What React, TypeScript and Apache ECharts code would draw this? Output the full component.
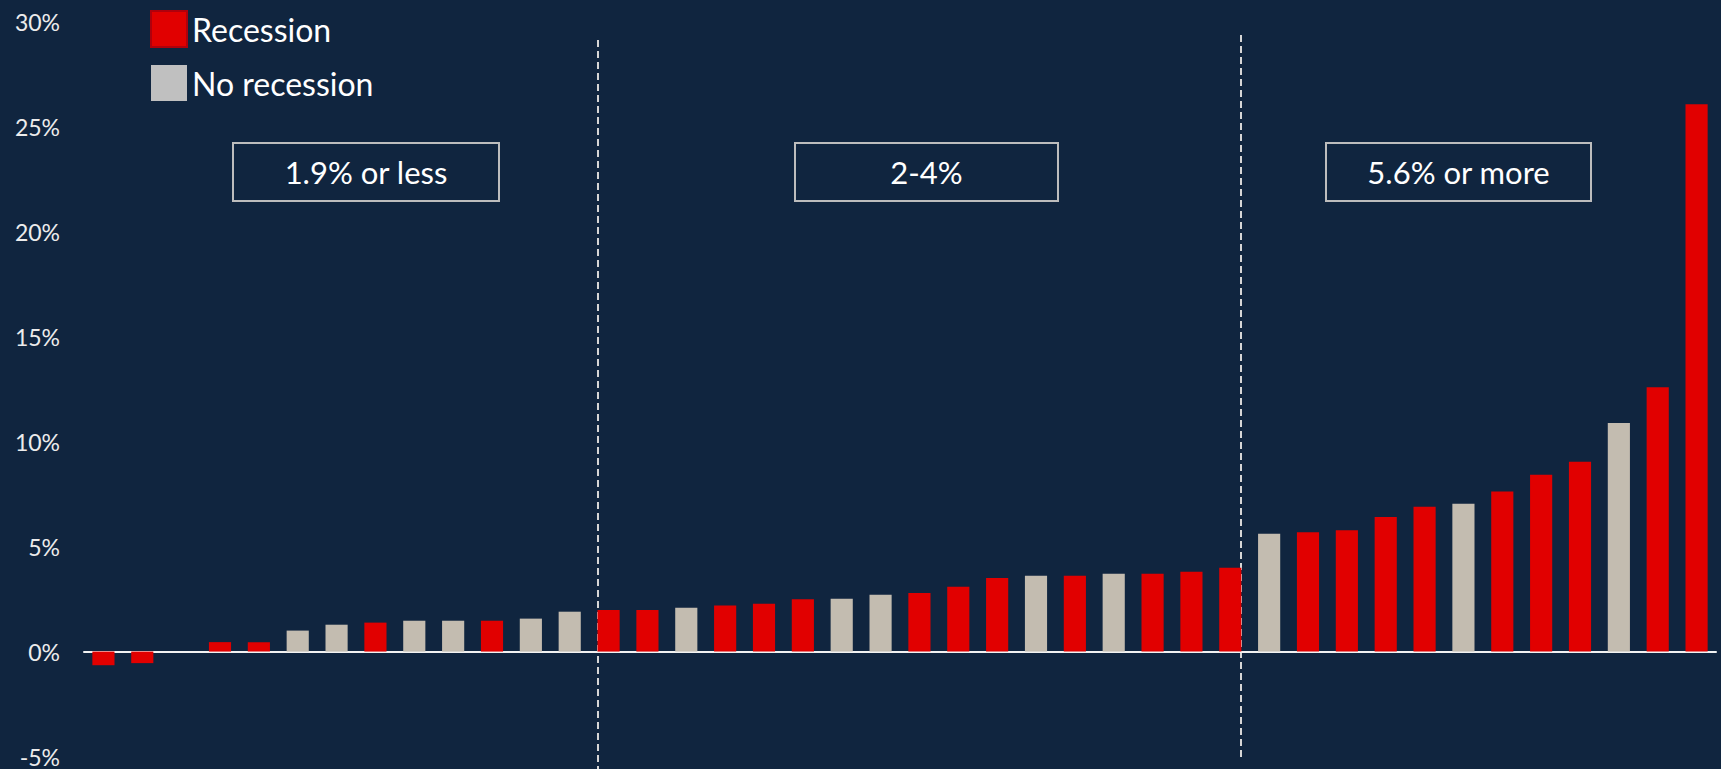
import React, { useEffect, useRef } from "react";
import * as echarts from "echarts";

// Value of each episode (%), sorted ascending
const values: number[] = [
  -0.65, -0.55, 0, 0.45, 0.45, 1.0, 1.28, 1.38, 1.47, 1.47, 1.47, 1.57, 1.9,
  1.98, 1.98, 2.09, 2.19, 2.28, 2.49, 2.52, 2.71, 2.79, 3.09, 3.5, 3.61, 3.61, 3.71, 3.71, 3.8, 3.99,
  5.62, 5.69, 5.78, 6.41, 6.9, 7.04, 7.63, 8.42, 9.05, 10.89, 12.6, 26.08,
];
// 1 = recession, 0 = no recession
const recession: number[] = [
  1, 1, 1, 1, 1, 0, 0, 1, 0, 0, 1, 0, 0,
  1, 1, 0, 1, 1, 1, 0, 0, 1, 1, 1, 0, 1, 0, 1, 1, 1,
  0, 1, 1, 1, 1, 0, 1, 1, 1, 0, 1, 1,
];
const categories: string[] = values.map((_, i) => String(i + 1));
const groupLabels: string[] = ["1.9% or less", "2-4%", "5.6% or more"];
const seriesNames: string[] = ["Recession", "No recession"];
const yTicks = { min: -5, max: 30, interval: 5 };

const BG = "#10253f";
const RED = "#e10000";
const GRAY = "#c3bcb0";

export default function App() {
  const ref = useRef<HTMLDivElement>(null);
  useEffect(() => {
    document.body.style.margin = "0";
    document.body.style.background = BG;
    const chart = echarts.init(ref.current!, undefined, { renderer: "svg" });
    const recData = values.map((v, i) => (recession[i] ? v : null));
    const noRecData = values.map((v, i) => (recession[i] ? null : v));

    const boxes = [
      { x: 233, w: 266 },
      { x: 795, w: 263 },
      { x: 1326, w: 265 },
    ];
    const graphic: any[] = [];
    boxes.forEach((b, i) => {
      graphic.push({
        type: "rect",
        shape: { x: b.x, y: 143, width: b.w, height: 58 },
        style: { fill: "none", stroke: "#bdbdbd", lineWidth: 2 },
        silent: true,
      });
      graphic.push({
        type: "text",
        x: b.x + b.w / 2,
        y: 172,
        style: {
          text: groupLabels[i],
          fill: "#ffffff",
          fontSize: 31,
          fontFamily: "Lato",
          align: "center",
          verticalAlign: "middle",
        },
        silent: true,
      });
    });
    graphic.push({
      type: "line",
      shape: { x1: 598, y1: 40, x2: 598, y2: 769 },
      style: { stroke: "#d6d6d6", lineWidth: 2, lineDash: [7, 4] },
      silent: true,
    });
    graphic.push({
      type: "line",
      shape: { x1: 1241, y1: 35, x2: 1241, y2: 757 },
      style: { stroke: "#d6d6d6", lineWidth: 2, lineDash: [7, 4] },
      silent: true,
    });

    chart.setOption({
      animation: false,
      backgroundColor: BG,
      grid: { left: 84, right: 5, top: 22, bottom: 12, containLabel: false },
      legend: {
        orient: "vertical",
        left: 145,
        top: 5,
        icon: "rect",
        itemWidth: 36,
        itemHeight: 36,
        itemGap: 17,
        textStyle: { color: "#ffffff", fontSize: 32, fontFamily: "Lato" },
        data: [
          { name: seriesNames[0], icon: "rect", itemStyle: { color: RED, borderColor: "#b0000c", borderWidth: 2 } },
          { name: seriesNames[1], icon: "rect", itemStyle: { color: "#c0c0c0", borderWidth: 0 } },
        ],
      },
      xAxis: {
        type: "category",
        data: categories,
        axisLine: { show: true, onZero: true, lineStyle: { color: "#f2f2f2", width: 2 } },
        axisTick: { show: false },
        axisLabel: { show: false },
        splitLine: { show: false },
      },
      yAxis: {
        type: "value",
        min: yTicks.min,
        max: yTicks.max,
        interval: yTicks.interval,
        axisLine: { show: false },
        axisTick: { show: false },
        splitLine: { show: false },
        axisLabel: {
          formatter: "{value}%",
          color: "#ececec",
          fontSize: 23,
          lineHeight: 20,
          padding: [0, 0, 5, 0],
          fontFamily: "Lato",
          margin: 24,
        },
      },
      graphic,
      series: [
        {
          name: seriesNames[0],
          type: "bar",
          stack: "all",
          data: recData,
          barCategoryGap: "43%",
          itemStyle: { color: RED },
        },
        {
          name: seriesNames[1],
          type: "bar",
          stack: "all",
          data: noRecData,
          barCategoryGap: "43%",
          itemStyle: { color: GRAY },
        },
      ],
    });
    return () => chart.dispose();
  }, []);
  return <div ref={ref} style={{ width: 1721, height: 769 }} />;
}
